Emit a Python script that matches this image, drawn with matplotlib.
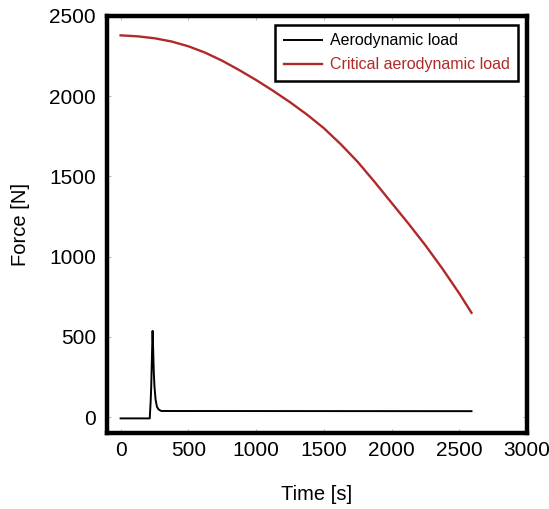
import numpy as np
import matplotlib
matplotlib.use("Agg")
import matplotlib.pyplot as plt

plt.rcParams["font.family"] = ["Liberation Sans", "DejaVu Sans"]

# critical aerodynamic load
t_crit = [0, 125, 250, 375, 500, 625, 750, 875, 1000, 1125, 1250, 1375, 1500,
          1625, 1750, 1875, 2000, 2125, 2250, 2375, 2500, 2590]
f_crit = [2378, 2372, 2360, 2340, 2310, 2270, 2220, 2162, 2100, 2033, 1962, 1885,
          1800, 1700, 1590, 1465, 1335, 1205, 1070, 925, 770, 650]

# aerodynamic load with the short peak
t_aero = [0, 215, 222, 226, 232, 236, 240, 245, 250, 258, 268, 280, 300, 2590]
f_aero = [-8, -8, 100, 190, 400, 537, 430, 280, 190, 110, 65, 48, 38, 37]

red = "#b02a2a"

fig = plt.figure(figsize=(5.49, 5.09), dpi=100)
ax = fig.add_axes([0.195, 0.149, 0.765, 0.82])

ax.plot(t_aero, f_aero, color="black", lw=1.4, label="Aerodynamic load")
ax.plot(t_crit, f_crit, color=red, lw=1.7, label="Critical aerodynamic load")

ax.set_xlim(-100, 3000)
ax.set_ylim(-100, 2500)
ax.set_xticks([0, 500, 1000, 1500, 2000, 2500, 3000])
ax.set_yticks([0, 500, 1000, 1500, 2000, 2500])

for s in ax.spines.values():
    s.set_linewidth(3.2)
ax.tick_params(direction="in", length=3, width=0.6, color="#aaaaaa",
               top=True, right=True, labelsize=15, pad=6)
ax.tick_params(axis="y", pad=8)

ax.set_xlabel("Time [s]", fontsize=14.5, labelpad=18)
ax.set_ylabel("Force [N]", fontsize=14.5, labelpad=14)

leg = ax.legend(loc="upper right", fontsize=11.5, fancybox=False,
                edgecolor="black", framealpha=1, borderaxespad=0.55,
                handlelength=2.4, handletextpad=0.45, borderpad=0.55,
                labelspacing=0.55)
leg.get_frame().set_linewidth(1.8)
leg.get_texts()[1].set_color(red)

fig.savefig("out.png", dpi=100)
